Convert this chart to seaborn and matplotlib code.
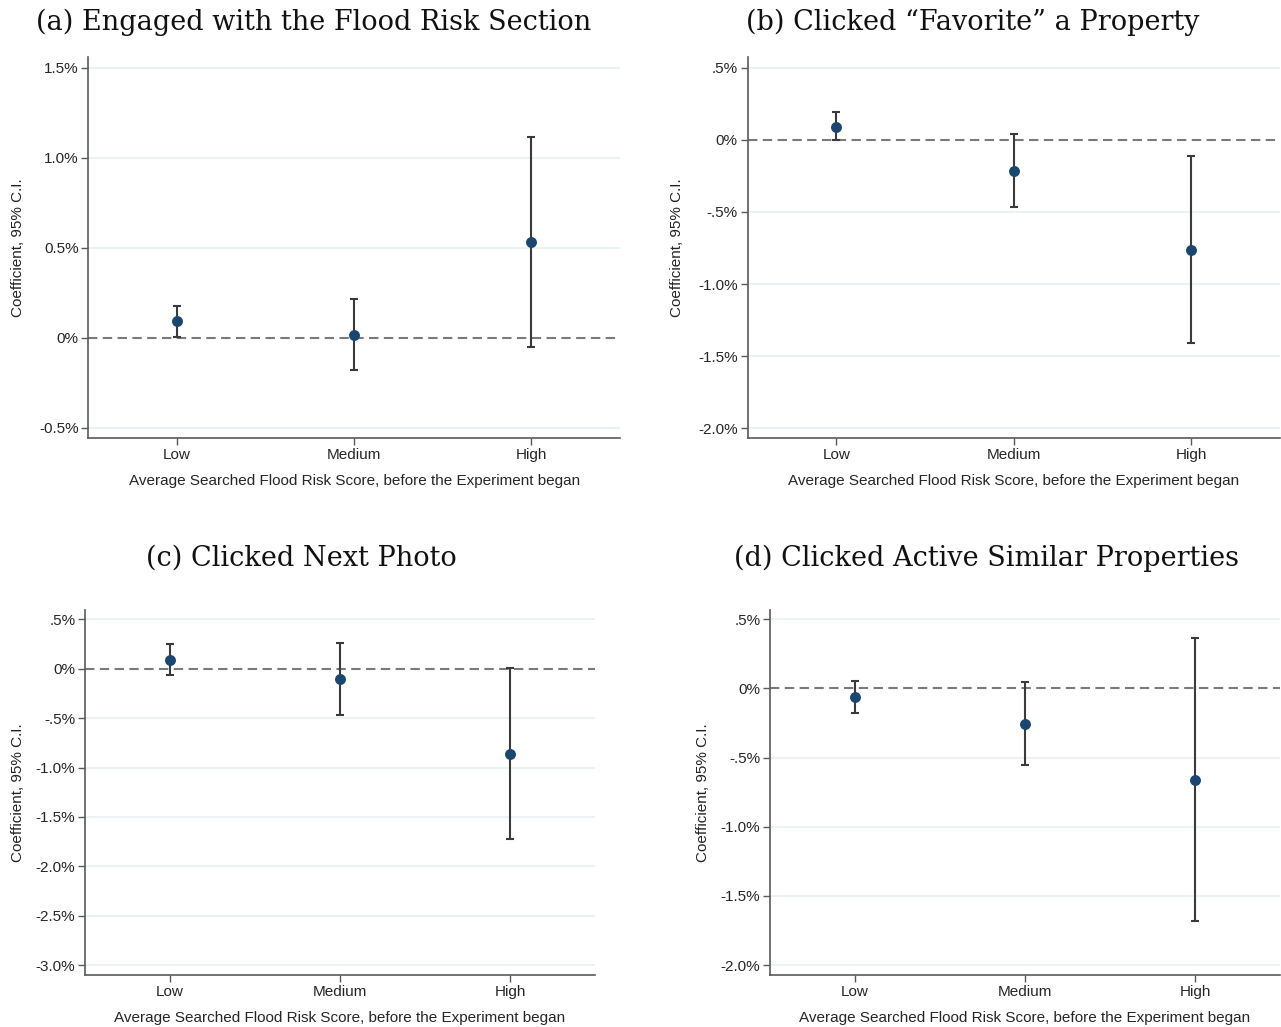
import numpy as np
import pandas as pd
import matplotlib
matplotlib.use("Agg")
import matplotlib.pyplot as plt
import seaborn as sns

# ---------------- data ----------------
categories = ["Low", "Medium", "High"]

titles = [
    "(a) Engaged with the Flood Risk Section",
    "(b) Clicked \u201cFavorite\u201d a Property",
    "(c) Clicked Next Photo",
    "(d) Clicked Active Similar Properties",
]

coef_a = [0.093, 0.019, 0.531]
lo_a = [0.006, -0.180, -0.052]
hi_a = [0.178, 0.219, 1.119]

coef_b = [0.093, -0.213, -0.762]
lo_b = [-0.003, -0.463, -1.412]
hi_b = [0.197, 0.039, -0.109]

coef_c = [0.091, -0.108, -0.858]
lo_c = [-0.064, -0.473, -1.723]
hi_c = [0.253, 0.260, 0.007]

coef_d = [-0.060, -0.258, -0.663]
lo_d = [-0.176, -0.557, -1.682]
hi_d = [0.055, 0.048, 0.366]

yticks_a = [1.5, 1.0, 0.5, 0.0, -0.5]
yticklabels_a = ["1.5%", "1.0%", "0.5%", "0%", "-0.5%"]
yticks_b = [0.5, 0.0, -0.5, -1.0, -1.5, -2.0]
yticklabels_b = [".5%", "0%", "-.5%", "-1.0%", "-1.5%", "-2.0%"]
yticks_c = [0.5, 0.0, -0.5, -1.0, -1.5, -2.0, -2.5, -3.0]
yticklabels_c = [".5%", "0%", "-.5%", "-1.0%", "-1.5%", "-2.0%", "-2.5%", "-3.0%"]
yticks_d = [0.5, 0.0, -0.5, -1.0, -1.5, -2.0]
yticklabels_d = [".5%", "0%", "-.5%", "-1.0%", "-1.5%", "-2.0%"]

xlabel = "Average Searched Flood Risk Score, before the Experiment began"
ylabel = "Coefficient, 95% C.I."

# ---------------- style ----------------
sns.set_theme(style="white")
sans = ["Liberation Sans", "DejaVu Sans"]
plt.rcParams["font.family"] = sans

W, H = 1281, 1027
fig = plt.figure(figsize=(W / 100, H / 100), dpi=100)

NAVY = "#1a476f"
BAR = "#3a3a3a"
GRID = "#eaf2f3"
SPINE = "#5a5a5a"

panels = [
    (coef_a, lo_a, hi_a, yticks_a, yticklabels_a, (-0.556, 1.561), (88.5, 620, 57, 438), (314, 22), 18),
    (coef_b, lo_b, hi_b, yticks_b, yticklabels_b, (-2.069, 0.576), (747.5, 1280, 57, 438), (973, 22), 677),
    (coef_c, lo_c, hi_c, yticks_c, yticklabels_c, (-3.10, 0.595), (85, 595, 610, 975), (301, 558), 18),
    (coef_d, lo_d, hi_d, yticks_d, yticklabels_d, (-2.072, 0.567), (770, 1280, 610, 975), (986, 558), 703),
]

for i, (coef, lo, hi, yt, ytl, ylim, rect, tpos, ylx) in enumerate(panels):
    x0, x1, yt0, yb0 = rect
    ax = fig.add_axes([x0 / W, 1 - yb0 / H, (x1 - x0) / W, (yb0 - yt0) / H])
    df = pd.DataFrame({"pos": np.arange(len(categories)), "coef": coef,
                       "lo": lo, "hi": hi, "cat": categories})
    for y in yt:
        if y != 0:
            ax.axhline(y, color=GRID, lw=1.5, zorder=0)
    ax.axhline(0, color="#7a7a7a", lw=1.5, ls=(0, (4.5, 2.6)), zorder=1)
    ax.errorbar(df["pos"], df["coef"],
                yerr=[df["coef"] - df["lo"], df["hi"] - df["coef"]],
                fmt="none", ecolor=BAR, elinewidth=1.5, capsize=3.2,
                capthick=1.5, zorder=2)
    sns.scatterplot(data=df, x="pos", y="coef", ax=ax, color=NAVY, s=62,
                    edgecolor=NAVY, linewidth=0, zorder=3, legend=False)
    ax.set_xlim(-0.5, 2.5)
    ax.set_ylim(*ylim)
    ax.set_xticks(df["pos"])
    ax.set_xticklabels(categories, fontsize=11)
    ax.set_yticks(yt)
    ax.set_yticklabels(ytl, fontsize=11)
    ax.set_xlabel(xlabel, fontsize=11, labelpad=9)
    ax.set_ylabel("")
    ax.tick_params(axis="both", direction="out", length=5, width=1,
                   color=SPINE, pad=2, left=True, bottom=True)
    for s in ["top", "right"]:
        ax.spines[s].set_visible(False)
    for s in ["left", "bottom"]:
        ax.spines[s].set_color(SPINE)
        ax.spines[s].set_linewidth(1.2)
    ax.set_facecolor("white")
    ycen = (yt0 + yb0) / 2
    fig.text(ylx / W, 1 - ycen / H, ylabel, rotation=90, ha="center",
             va="center", fontsize=11, color="#222222")
    fig.text(tpos[0] / W, 1 - tpos[1] / H, titles[i], ha="center",
             va="center", fontsize=19.5, family=["DejaVu Serif"], color="#111111")

fig.savefig("out.png", dpi=100, facecolor="white")
